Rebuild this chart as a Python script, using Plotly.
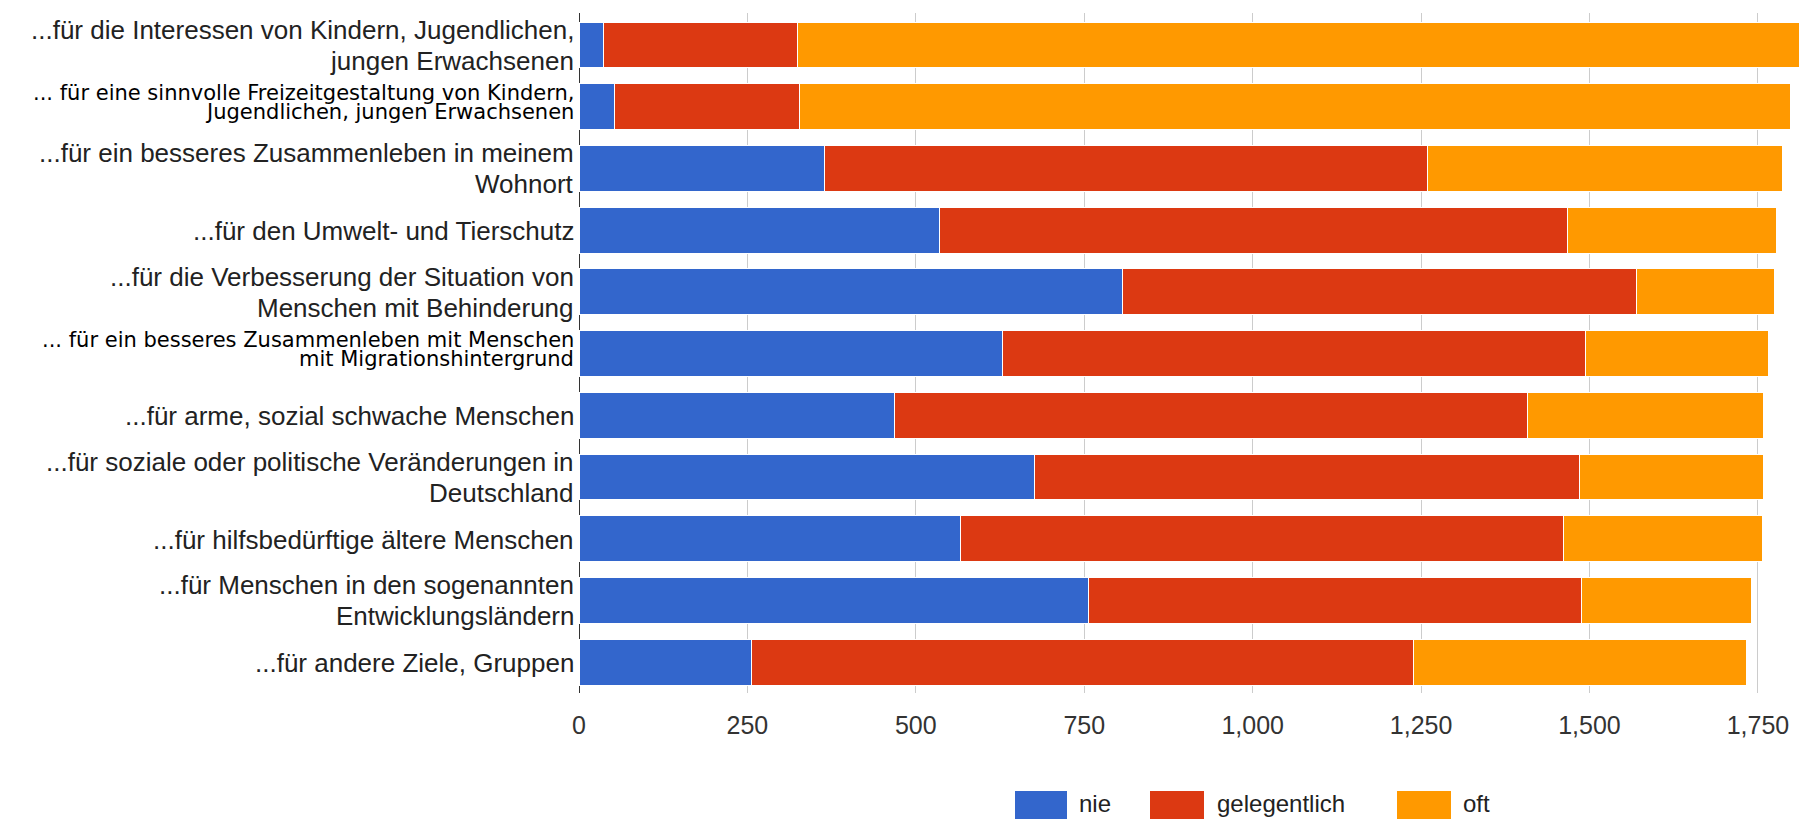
import plotly.graph_objects as go

# Categories (top to bottom); "<br>" marks the line break of the label
categories = [
    "...für die Interessen von Kindern, Jugendlichen,<br>jungen Erwachsenen",
    "... für eine sinnvolle Freizeitgestaltung von Kindern,<br>Jugendlichen, jungen Erwachsenen",
    "...für ein besseres Zusammenleben in meinem<br>Wohnort",
    "...für den Umwelt- und Tierschutz",
    "...für die Verbesserung der Situation von<br>Menschen mit Behinderung",
    "... für ein besseres Zusammenleben mit Menschen<br>mit Migrationshintergrund",
    "...für arme, sozial schwache Menschen",
    "...für soziale oder politische Veränderungen in<br>Deutschland",
    "...für hilfsbedürftige ältere Menschen",
    "...für Menschen in den sogenannten<br>Entwicklungsländern",
    "...für andere Ziele, Gruppen",
]

nie = [37, 52, 364, 535, 807, 629, 469, 676, 567, 756, 256]
gelegentlich = [288, 276, 896, 932, 763, 865, 939, 809, 895, 732, 983]
oft = [1500, 1470, 527, 310, 204, 272, 351, 274, 295, 253, 494]

series_names = ["nie", "gelegentlich", "oft"]
series_colors = ["#3366CC", "#DC3912", "#FF9900"]

x_ticks = [0, 250, 500, 750, 1000, 1250, 1500, 1750]
x_tick_labels = ["0", "250", "500", "750", "1,000", "1,250", "1,500", "1,750"]

# rows whose labels are set in a different typeface
plain_font_rows = {1, 5}

W, H = 1799, 819
M_L, M_R, M_T, M_B = 579, 0, 13, 126
X_MAX = 1811

ARIAL = "Liberation Sans, Arial, sans-serif"
PLAIN = "DejaVu Sans, sans-serif"


def px_to_paper_x(px):
    return (px - M_L) / (W - M_L - M_R)


def px_to_paper_y(py):
    return (H - M_B - py) / (H - M_T - M_B)


fig = go.Figure()
for name, vals, color in zip(series_names, [nie, gelegentlich, oft], series_colors):
    fig.add_trace(go.Bar(
        y=categories, x=vals, name=name, orientation="h",
        marker=dict(color=color, line=dict(color="white", width=1)),
        showlegend=False,
    ))

annotations = []
for i, cat in enumerate(categories):
    lines = cat.split("<br>")
    if i in plain_font_rows:
        font = dict(family=PLAIN, size=21, color="#000000")
        shifts = [13.5, -5.5]
    else:
        font = dict(family=ARIAL, size=26, color="#222222")
        shifts = [15, -16] if len(lines) == 2 else [-1]
    for line, dy in zip(lines, shifts):
        annotations.append(dict(
            text=line, xref="paper", yref="y", x=0, y=cat,
            xanchor="right", yanchor="middle", xshift=-4, yshift=dy,
            showarrow=False, font=font, borderpad=0,
        ))

# legend drawn as swatches and labels under the axis
legend_items = [(1015, 1067, 1078), (1150, 1204, 1216), (1397, 1451, 1462)]
shapes = []
for (x0, x1, tx), name, color in zip(legend_items, series_names, series_colors):
    shapes.append(dict(
        type="rect", xref="paper", yref="paper",
        x0=px_to_paper_x(x0), x1=px_to_paper_x(x1),
        y0=px_to_paper_y(791), y1=px_to_paper_y(840),
        fillcolor=color, line=dict(width=0), layer="above",
    ))
    annotations.append(dict(
        text=name, xref="paper", yref="paper",
        x=px_to_paper_x(tx), y=px_to_paper_y(803),
        xanchor="left", yanchor="middle", showarrow=False, borderpad=0,
        font=dict(family=ARIAL, size=24, color="#222222"),
    ))

fig.update_layout(
    width=W, height=H,
    margin=dict(l=M_L, r=M_R, t=M_T, b=M_B, pad=0),
    barmode="stack", bargap=0.256,
    plot_bgcolor="white", paper_bgcolor="white",
    annotations=annotations, shapes=shapes,
    xaxis=dict(
        range=[0, X_MAX], tickvals=x_ticks, ticktext=x_tick_labels,
        showgrid=True, gridcolor="#cccccc", gridwidth=1,
        zeroline=True, zerolinecolor="#333333", zerolinewidth=1,
        showline=False, ticks="", ticklabelstandoff=15,
        tickfont=dict(family=ARIAL, size=25, color="#333333"),
        fixedrange=True,
    ),
    yaxis=dict(
        categoryorder="array", categoryarray=categories,
        autorange="reversed", showticklabels=False,
        showgrid=False, zeroline=False, showline=False, ticks="",
        fixedrange=True,
    ),
)

fig.write_html("out.html", config={"displayModeBar": False})
